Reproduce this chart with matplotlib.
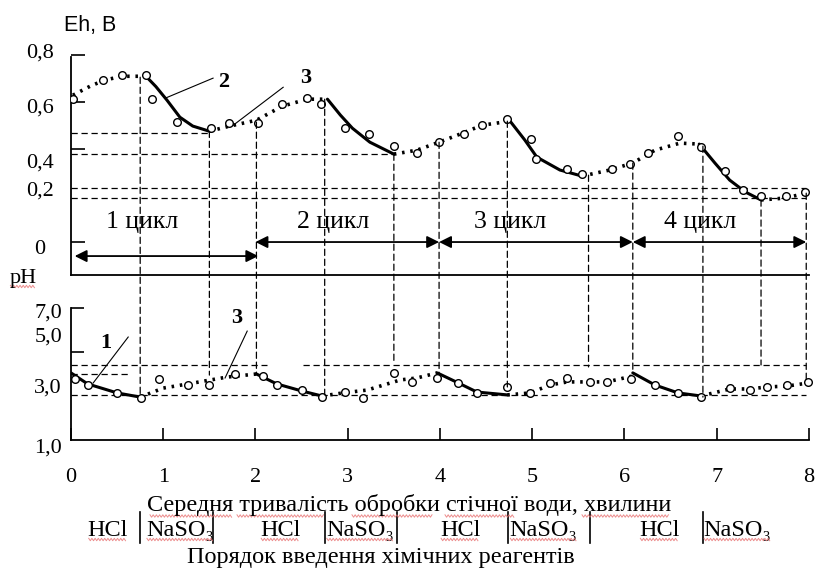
import matplotlib
matplotlib.use('Agg')
import matplotlib.pyplot as plt
import matplotlib.transforms as mtransforms
from matplotlib.patches import ConnectionPatch
from matplotlib.lines import Line2D

plt.rcParams['font.family'] = ['Liberation Serif', 'DejaVu Serif']

# ---------------- data ----------------
x_ticks = [0, 1, 2, 3, 4, 5, 6, 7, 8]
x_tick_labels = ['0', '1', '2', '3', '4', '5', '6', '7', '8']

eh_tick_vals = [0.0, 0.4, 0.6, 0.8]
eh_label_text = ['0,8', '0,6', '0,4', '0,2', '0']
eh_label_pos = [0.808, 0.573, 0.338, 0.218, -0.034]

ph_tick_vals = [5.0, 7.0]
ph_label_text = ['7,0', '5,0', '3,0', '1,0']
ph_label_pos = [6.77, 5.68, 3.36, 0.64]

# Eh, curve 3 (dotted) segments
eh3_x = [[0.02, 0.21, 0.36, 0.55, 0.80],
         [1.50, 1.72, 2.01, 2.29, 2.56, 2.78],
         [3.50, 3.75, 3.99, 4.22, 4.46, 4.76],
         [5.54, 5.84, 6.09, 6.33, 6.60, 6.81],
         [7.48, 7.74, 7.97]]
eh3_y = [[0.628, 0.667, 0.692, 0.709, 0.709],
         [0.474, 0.496, 0.521, 0.581, 0.611, 0.611],
         [0.376, 0.393, 0.427, 0.462, 0.500, 0.517],
         [0.282, 0.308, 0.338, 0.393, 0.423, 0.419],
         [0.180, 0.188, 0.209]]
# Eh, curve 2 (solid) segments
eh2_x = [[0.80, 0.92, 1.04, 1.18, 1.32, 1.50],
         [2.78, 2.92, 3.05, 3.24, 3.50],
         [4.76, 4.92, 5.05, 5.30, 5.54],
         [6.81, 6.98, 7.14, 7.31, 7.48]]
eh2_y = [[0.714, 0.665, 0.607, 0.534, 0.496, 0.474],
         [0.611, 0.543, 0.487, 0.427, 0.376],
         [0.517, 0.436, 0.363, 0.308, 0.282],
         [0.419, 0.338, 0.265, 0.214, 0.180]]
# Eh, measured points
eh_obs_x = [0.02, 0.35, 0.55, 0.81, 0.88, 1.15, 1.52, 1.71, 2.03, 2.29, 2.56, 2.71,
            2.97, 3.23, 3.50, 3.75, 3.99, 4.26, 4.46, 4.73, 4.99, 5.04, 5.38, 5.54,
            5.86, 6.06, 6.25, 6.58, 6.83, 7.09, 7.28, 7.48, 7.75, 7.96]
eh_obs_y = [0.611, 0.692, 0.714, 0.714, 0.611, 0.513, 0.487, 0.509, 0.509, 0.590, 0.615, 0.590,
            0.487, 0.462, 0.410, 0.380, 0.427, 0.462, 0.500, 0.526, 0.440, 0.355, 0.312, 0.291,
            0.312, 0.333, 0.380, 0.453, 0.406, 0.303, 0.222, 0.197, 0.197, 0.214]

# pH, curve 1 (solid) segments
ph1_x = [[0.00, 0.18, 0.50, 0.75],
         [2.01, 2.23, 2.50, 2.72],
         [3.97, 4.20, 4.40, 4.73],
         [6.09, 6.33, 6.58, 6.83]]
ph1_y = [[4.05, 3.55, 3.14, 2.95],
         [4.00, 3.55, 3.23, 3.00],
         [4.05, 3.59, 3.18, 3.05],
         [4.05, 3.50, 3.14, 3.00]]
# pH, curve 3 (dotted) segments
ph3_x = [[0.75, 1.00, 1.27, 1.69, 2.01],
         [2.72, 2.95, 3.21, 3.57, 3.75, 3.97],
         [4.73, 4.98, 5.19, 5.38, 5.63, 5.81, 6.09],
         [6.83, 7.14, 7.36, 7.54, 7.76, 7.99]]
ph3_y = [[2.95, 3.36, 3.55, 3.86, 4.00],
         [3.00, 3.14, 3.27, 3.73, 3.82, 4.05],
         [3.05, 3.14, 3.50, 3.64, 3.64, 3.64, 3.91],
         [3.00, 3.32, 3.32, 3.41, 3.45, 3.59]]
# pH, measured points
ph_obs_x = [0.04, 0.18, 0.50, 0.76, 0.95, 1.27, 1.50, 1.78, 2.08, 2.23, 2.50, 2.72,
            2.97, 3.17, 3.50, 3.70, 3.97, 4.20, 4.40, 4.73, 4.98, 5.19, 5.38, 5.63,
            5.81, 6.07, 6.33, 6.58, 6.83, 7.14, 7.36, 7.54, 7.76, 7.99]
ph_obs_y = [3.77, 3.50, 3.14, 2.91, 3.77, 3.50, 3.50, 4.00, 3.91, 3.50, 3.27, 2.95,
            3.18, 2.91, 4.05, 3.64, 3.82, 3.59, 3.14, 3.41, 3.14, 3.59, 3.82, 3.64,
            3.64, 3.77, 3.50, 3.14, 2.95, 3.36, 3.27, 3.41, 3.50, 3.64]

# vertical guide lines linking the Eh and pH curves
guide_x = [0.75, 1.50, 2.01, 2.75, 3.50, 3.99, 4.73, 5.61, 6.09, 6.85, 7.48, 7.97]
guide_eh = [0.705, 0.474, 0.513, 0.611, 0.376, 0.427, 0.517, 0.286, 0.338, 0.410, 0.180, 0.209]
guide_ph = [3.05, 3.95, 4.05, 3.05, 4.50, 4.05, 3.41, 4.32, 4.05, 2.95, 4.41, 3.64]

# horizontal reference lines
eh_ref_level = [0.466, 0.376, 0.231, 0.188]
eh_ref_end = [1.50, 3.50, 7.97, 7.97]
ph_ref_level = [4.41, 4.41, 4.00, 3.05]
ph_ref_start = [0.00, 2.51, 0.00, 0.00]
ph_ref_end = [2.13, 7.97, 0.64, 7.97]

# cycles
cycle_names = ['1 цикл', '2 цикл', '3 цикл', '4 цикл']
cycle_start = [0.04, 2.00, 3.99, 6.09]
cycle_end = [2.03, 3.99, 6.09, 7.97]
cycle_arrow_eh = [-0.06, 0.0, 0.0, 0.0]
cycle_label_x = [0.77, 2.84, 4.76, 6.82]

# reagents
reagent_names = ['HCl', 'NaSO₃', 'HCl', 'NaSO₃', 'HCl', 'NaSO₃', 'HCl', 'NaSO₃']
reagent_x = [0.40, 1.18, 2.27, 3.13, 4.22, 5.12, 6.38, 7.22]
reagent_sep_x = [0.75, 1.54, 2.75, 3.53, 4.74, 5.63, 6.85]

# ---------------- figure ----------------
W, H = 820, 570
fig = plt.figure(figsize=(W / 100, H / 100), dpi=100)

ax1 = fig.add_axes([71 / W, 1 - 275 / H, 738 / W, 220 / H])
ax2 = fig.add_axes([71 / W, 1 - 440 / H, 738 / W, 132 / H])
for ax in (ax1, ax2):
    ax.set_xlim(0, 8)
    ax.patch.set_alpha(0)
    ax.spines['top'].set_visible(False)
    ax.spines['right'].set_visible(False)
    ax.spines['left'].set_linewidth(1.3)
    ax.spines['bottom'].set_linewidth(1.3)
ax1.set_ylim(-0.141, 0.799)
ax2.set_ylim(1, 7)
ax1.spines['left'].set_bounds(-0.141, 0.79)

FS = 16
FS_TXT = 17.5
dash = (0, (5, 3))
dot = (0, (0.7, 1.6))

# ---- upper panel ----
ax1.set_xticks([])
ax1.set_yticks(eh_tick_vals)
ax1.set_yticklabels([])
ax1.tick_params(axis='y', direction='in', length=10, width=1.2)
tr1 = mtransforms.blended_transform_factory(ax1.transAxes, ax1.transData)
for t, p in zip(eh_label_text, eh_label_pos):
    ax1.text(-0.042, p, t, transform=tr1, ha='center', va='center', fontsize=FS)

for lvl, xe in zip(eh_ref_level, eh_ref_end):
    ax1.plot([0, xe], [lvl, lvl], color='black', lw=0.9, linestyle=dash)

for xs, ys in zip(eh3_x, eh3_y):
    ax1.plot(xs, ys, color='black', lw=2.6, linestyle=dot)
for xs, ys in zip(eh2_x, eh2_y):
    ax1.plot(xs, ys, color='black', lw=2.2, solid_capstyle='round')
ax1.plot(eh_obs_x, eh_obs_y, linestyle='none', marker='o', ms=5.5, mfc='white',
         mec='black', mew=1.0, zorder=4)

for name, x0, x1, ya, xl in zip(cycle_names, cycle_start, cycle_end, cycle_arrow_eh, cycle_label_x):
    ax1.annotate('', xy=(x1, ya), xytext=(x0, ya),
                 arrowprops=dict(arrowstyle='<|-|>', color='black', lw=1.3,
                                 mutation_scale=18, shrinkA=0, shrinkB=0))
    ax1.text(xl, 0.085, name, ha='center', va='center', fontsize=18.5)

# labels 2 and 3 on the Eh panel
ax1.text(1.66, 0.684, '2', ha='center', va='center', fontsize=FS, fontweight='bold')
ax1.plot([1.54, 1.02], [0.701, 0.615], color='black', lw=0.8)
ax1.text(2.54, 0.701, '3', ha='center', va='center', fontsize=FS, fontweight='bold')
ax1.plot([2.30, 1.76], [0.662, 0.500], color='black', lw=0.8)

# ---- lower panel ----
ax2.set_xticks(x_ticks)
ax2.set_xticklabels(x_tick_labels, fontsize=FS)
ax2.tick_params(axis='x', direction='in', length=9, width=1.2, pad=20)
ax2.set_yticks(ph_tick_vals)
ax2.set_yticklabels([])
ax2.tick_params(axis='y', direction='in', length=9, width=1.2)
tr2 = mtransforms.blended_transform_factory(ax2.transAxes, ax2.transData)
for t, p in zip(ph_label_text, ph_label_pos):
    ax2.text(-0.031, p, t, transform=tr2, ha='center', va='center', fontsize=FS, clip_on=False)

for lvl, xs0, xe in zip(ph_ref_level, ph_ref_start, ph_ref_end):
    ax2.plot([xs0, xe], [lvl, lvl], color='black', lw=0.9, linestyle=dash)

for xs, ys in zip(ph3_x, ph3_y):
    ax2.plot(xs, ys, color='black', lw=2.6, linestyle=dot)
for xs, ys in zip(ph1_x, ph1_y):
    ax2.plot(xs, ys, color='black', lw=2.2, solid_capstyle='round')
ax2.plot(ph_obs_x, ph_obs_y, linestyle='none', marker='o', ms=5.5, mfc='white',
         mec='black', mew=1.0, zorder=4, clip_on=False)

ax2.text(0.38, 5.41, '1', ha='center', va='center', fontsize=FS, fontweight='bold')
ax2.plot([0.62, 0.24], [5.68, 3.59], color='black', lw=0.8)
ax2.text(1.80, 6.55, '3', ha='center', va='center', fontsize=FS, fontweight='bold')
ax2.plot([1.91, 1.67], [5.95, 3.82], color='black', lw=0.8)

# vertical guides from Eh curve to pH curve
for gx, ge, gp in zip(guide_x, guide_eh, guide_ph):
    con = ConnectionPatch(xyA=(gx, ge), coordsA=ax1.transData,
                          xyB=(gx, gp), coordsB=ax2.transData,
                          color='black', lw=0.9, linestyle=dash, zorder=1)
    fig.add_artist(con)

# reagent row
trx = mtransforms.blended_transform_factory(ax2.transData, ax2.transAxes)
squiggle_targets = []
for name, rx in zip(reagent_names, reagent_x):
    t = ax2.text(rx, -0.682, name, transform=trx, ha='center', va='center', fontsize=FS_TXT,
                 clip_on=False)
    squiggle_targets.append(t)
for sx in reagent_sep_x:
    ax2.plot([sx, sx], [-0.545, -0.78], transform=trx, color='black', lw=1.2, clip_on=False)

# texts
fig.text(90 / W, 1 - 25 / H, 'Eh, B', ha='center', va='center', fontsize=15.5,
         family=['Liberation Sans', 'DejaVu Sans'])
t_ph = fig.text(23 / W, 1 - 278 / H, 'pH', ha='center', va='center', fontsize=FS)
squiggle_targets.append(t_ph)
fig.text(409 / W, 1 - 505 / H, 'Середня тривалість обробки стічної води, хвилини',
         ha='center', va='center', fontsize=FS_TXT)
fig.text(381 / W, 1 - 558 / H, 'Порядок введення хімічних реагентів',
         ha='center', va='center', fontsize=FS_TXT)


def squiggle(x0, x1, y):
    """faint red spell-check wave in figure pixel coordinates (y from top)"""
    xs, ys = [], []
    x, k = x0, 0
    while x <= x1:
        xs.append(x / W)
        ys.append(1 - (y + (1.2 if k % 2 else -1.2)) / H)
        x += 1.6
        k += 1
    fig.add_artist(Line2D(xs, ys, color='#e87070', lw=0.7, alpha=0.8,
                          transform=fig.transFigure))


fig.canvas.draw()
r = fig.canvas.get_renderer()
for t in squiggle_targets:
    bb = t.get_window_extent(r)
    squiggle(bb.x0 + 1, bb.x1 - 1, H - bb.y0 - 1)
# spell-check waves under words of the axis title
for a, b in [(150, 233), (237, 325), (352, 433), (445, 515), (582, 670)]:
    squiggle(a, b, 516)

fig.savefig('out.png', dpi=100)
